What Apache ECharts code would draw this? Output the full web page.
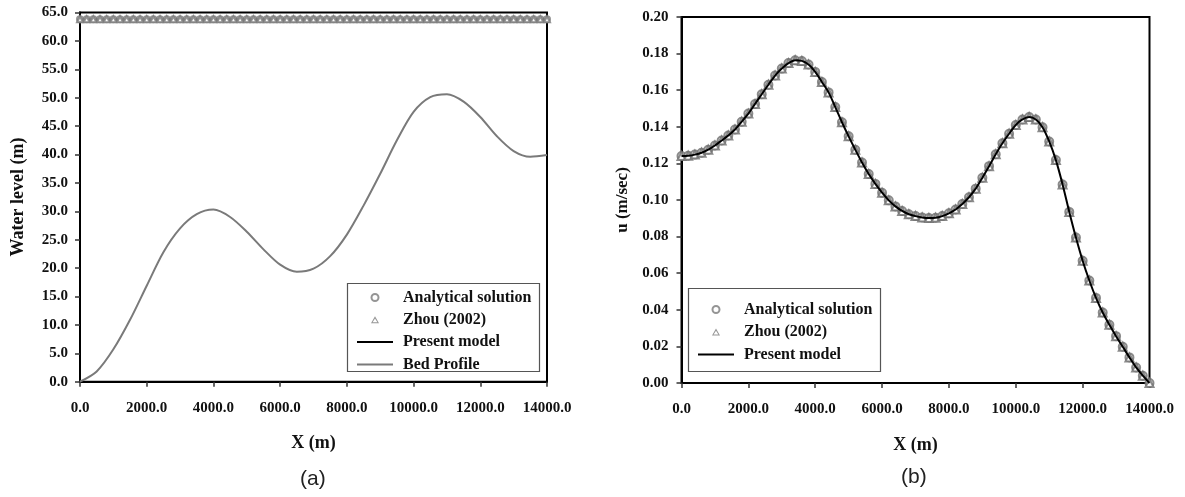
<!DOCTYPE html>
<html>
<head>
<meta charset="utf-8">
<script src="https://cdn.jsdelivr.net/npm/echarts@6/dist/echarts.min.js"></script>
<style>
html,body{margin:0;padding:0;background:#fff;}
#chart{width:1185px;height:497px;}
</style>
</head>
<body>
<div id="chart"></div>
<script>
// ---------- data ----------
const markerX = [0,200,400,600,800,1000,1200,1400,1600,1800,2000,2200,2400,2600,2800,3000,3200,3400,3600,3800,4000,4200,4400,4600,4800,5000,5200,5400,5600,5800,6000,6200,6400,6600,6800,7000,7200,7400,7600,7800,8000,8200,8400,8600,8800,9000,9200,9400,9600,9800,10000,10200,10400,10600,10800,11000,11200,11400,11600,11800,12000,12200,12400,12600,12800,13000,13200,13400,13600,13800,14000];
const waterLevel = [63.8,63.8,63.8,63.8,63.8,63.8,63.8,63.8,63.8,63.8,63.8,63.8,63.8,63.8,63.8,63.8,63.8,63.8,63.8,63.8,63.8,63.8,63.8,63.8,63.8,63.8,63.8,63.8,63.8,63.8,63.8,63.8,63.8,63.8,63.8,63.8,63.8,63.8,63.8,63.8,63.8,63.8,63.8,63.8,63.8,63.8,63.8,63.8,63.8,63.8,63.8,63.8,63.8,63.8,63.8,63.8,63.8,63.8,63.8,63.8,63.8,63.8,63.8,63.8,63.8,63.8,63.8,63.8,63.8,63.8,63.8];
const uValues = [0.1240,0.1242,0.1248,0.1258,0.1275,0.1298,0.1325,0.1352,0.1385,0.1428,
  0.1472,0.1525,0.1578,0.1630,0.1680,0.1718,0.1748,0.1764,0.1760,0.1740,
  0.1700,0.1645,0.1588,0.1508,0.1425,0.1348,0.1275,0.1205,0.1142,0.1088,
  0.1040,0.0998,0.0965,0.0940,0.0922,0.0912,0.0905,0.0902,0.0903,0.0912,
  0.0927,0.0948,0.0978,0.1015,0.1062,0.1122,0.1185,0.1250,0.1310,0.1362,
  0.1410,0.1440,0.1453,0.1440,0.1398,0.1320,0.1218,0.1085,0.0935,0.0795,
  0.0668,0.0560,0.0465,0.0385,0.0318,0.0256,0.0198,0.0140,0.0085,0.0040,
  0.0000];
const bedX = [0,500,1000,1500,2000,2500,3000,3500,4000,4500,5000,5500,6000,6500,7000,7500,8000,8500,9000,9500,10000,10500,11000,11500,12000,12500,13000,13500,14000];
const bedZ = [0,1.8,5.7,10.9,16.9,22.8,27.0,29.5,30.3,29.0,26.4,23.3,20.6,19.35,19.9,22.1,25.9,31.0,36.6,42.5,47.5,50.1,50.6,49.3,46.6,43.2,40.6,39.6,39.9];
const legendA = ['Analytical solution','Zhou (2002)','Present model','Bed Profile'];
const legendB = ['Analytical solution','Zhou (2002)','Present model'];

// ---------- build ----------
const zip = (xs, ys) => xs.map((x, i) => [x, ys[i]]);
const SERIF = '"Liberation Serif", "Times New Roman", serif';
const labelStyle = {fontFamily: SERIF, fontWeight: 'bold', fontSize: 15, color: '#111'};
const grey = '#7a7a7a';
const LINE_ICON = 'path://M0,0h36v2h-36z';
const TRI_ICON = 'path://M4,0L8,7L0,7Z M4,2.3L1.6,5.9L6.4,5.9Z';
function legendItems(names) {
  return names.map(n => {
    if (n === 'Present model') return {name: n, icon: LINE_ICON, itemStyle: {color: '#000'}};
    if (n === 'Bed Profile') return {name: n, icon: LINE_ICON, itemStyle: {color: grey}};
    if (n === 'Zhou (2002)') return {name: n, icon: TRI_ICON, itemStyle: {color: grey, borderWidth: 0}};
    return {name: n};
  });
}
function xAxisCfg(gi) {
  return {
    gridIndex: gi, type: 'value', min: 0, max: 14000, interval: 2000,
    axisLine: {lineStyle: {color: '#000', width: 2}},
    axisTick: {show: true, length: 5, lineStyle: {color: '#333', width: 1.5}},
    axisLabel: Object.assign({margin: 19, formatter: v => v.toFixed(1)}, labelStyle),
    splitLine: {show: false},
    name: 'X (m)', nameLocation: 'middle', nameGap: 53,
    nameTextStyle: {fontFamily: SERIF, fontWeight: 'bold', fontSize: 18, color: '#111'}
  };
}
const chart = echarts.init(document.getElementById('chart'), null, {renderer: 'canvas'});
chart.setOption({
  animation: false,
  backgroundColor: '#fff',
  grid: [
    {left: 80, right: 638, top: 12.5, bottom: 115.3, show: true, borderColor: '#000', borderWidth: 2},
    {left: 681.5, right: 35.5, top: 17, bottom: 114, show: true, borderColor: '#000', borderWidth: 2}
  ],
  xAxis: [xAxisCfg(0), xAxisCfg(1)],
  yAxis: [
    {gridIndex: 0, type: 'value', min: 0, max: 65, interval: 5,
     axisLine: {show: true, lineStyle: {color: '#000', width: 2}},
     axisTick: {show: true, length: 5, lineStyle: {color: '#333', width: 1.5}},
     axisLabel: Object.assign({margin: 12, formatter: v => v.toFixed(1)}, labelStyle),
     splitLine: {show: false},
     name: 'Water level (m)', nameLocation: 'middle', nameGap: 53,
     nameTextStyle: {fontFamily: SERIF, fontWeight: 'bold', fontSize: 18, color: '#111'}},
    {gridIndex: 1, type: 'value', min: 0, max: 0.2, interval: 0.02,
     axisLine: {show: true, lineStyle: {color: '#000', width: 2}},
     axisTick: {show: true, length: 5, lineStyle: {color: '#333', width: 1.5}},
     axisLabel: Object.assign({margin: 13, formatter: v => v.toFixed(2)}, labelStyle),
     splitLine: {show: false},
     name: 'u (m/sec)', nameLocation: 'middle', nameGap: 50,
     nameTextStyle: {fontFamily: SERIF, fontWeight: 'bold', fontSize: 17, color: '#111'}}
  ],
  legend: [
    {data: legendItems(legendA), orient: 'vertical', left: 357, top: 289.5, padding: 0,
     itemWidth: 36, itemHeight: 7, itemGap: 6.3, symbolKeepAspect: true,
     textStyle: {fontFamily: SERIF, fontWeight: 'bold', fontSize: 16, color: '#111', lineHeight: 15, padding: [0,0,0,5]}},
    {data: legendItems(legendB), orient: 'vertical', left: 698, top: 301.5, padding: 0,
     itemWidth: 36, itemHeight: 7, itemGap: 6.5, symbolKeepAspect: true,
     textStyle: {fontFamily: SERIF, fontWeight: 'bold', fontSize: 16, color: '#111', lineHeight: 15, padding: [0,0,0,5]}}
  ],
  graphic: [
    {type: 'rect', shape: {x: 347.5, y: 283.5, width: 192, height: 88}, style: {fill: 'none', stroke: '#555', lineWidth: 1.2}, z: 100},
    {type: 'rect', shape: {x: 688.5, y: 288.5, width: 192, height: 83}, style: {fill: 'none', stroke: '#555', lineWidth: 1.2}, z: 100},
    {type: 'text', left: 300, top: 469, style: {text: '(a)', font: '21px "Liberation Sans", Arial, sans-serif', fill: '#222'}},
    {type: 'text', left: 901, top: 467, style: {text: '(b)', font: '21px "Liberation Sans", Arial, sans-serif', fill: '#222'}}
  ],
  series: [
    {name: 'Bed Profile', type: 'line', xAxisIndex: 0, yAxisIndex: 0, data: zip(bedX, bedZ),
     smooth: 0.3, symbol: 'none', lineStyle: {color: grey, width: 2}, itemStyle: {color: grey}},
    {name: 'Present model', type: 'line', xAxisIndex: 0, yAxisIndex: 0, data: zip(markerX, waterLevel),
     symbol: 'none', lineStyle: {color: '#000', width: 2}, itemStyle: {color: '#000'}, z: 1},
    {name: 'Analytical solution', type: 'scatter', xAxisIndex: 0, yAxisIndex: 0, data: zip(markerX, waterLevel),
     symbol: 'emptyCircle', symbolSize: 6, itemStyle: {color: grey, borderWidth: 1.2}},
    {name: 'Zhou (2002)', type: 'scatter', xAxisIndex: 0, yAxisIndex: 0, data: zip(markerX, waterLevel),
     symbol: 'emptyTriangle', symbolSize: 6, itemStyle: {color: grey, borderWidth: 1.2}},

    {name: 'Analytical solution', type: 'scatter', xAxisIndex: 1, yAxisIndex: 1, data: zip(markerX, uValues),
     symbol: 'emptyCircle', symbolSize: 8, itemStyle: {color: '#6e6e6e', borderWidth: 1.5}},
    {name: 'Zhou (2002)', type: 'scatter', xAxisIndex: 1, yAxisIndex: 1, data: zip(markerX, uValues),
     symbol: 'emptyTriangle', symbolSize: 8, itemStyle: {color: '#6e6e6e', borderWidth: 1.5}},
    {name: 'Present model', type: 'line', xAxisIndex: 1, yAxisIndex: 1, data: zip(markerX, uValues),
     smooth: 0.3, symbol: 'none', lineStyle: {color: '#000', width: 2}, itemStyle: {color: '#000'}, z: 5}
  ]
});
</script>
</body>
</html>
